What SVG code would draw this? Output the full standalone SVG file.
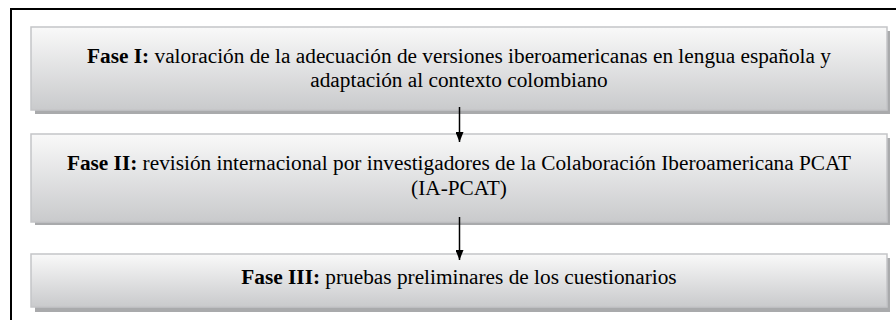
<svg xmlns="http://www.w3.org/2000/svg" width="896" height="320" viewBox="0 0 896 320">
<defs>
<linearGradient id="g" x1="0" y1="0" x2="0" y2="1">
<stop offset="0" stop-color="#f9f9f9"/>
<stop offset="1" stop-color="#c9cacc"/>
</linearGradient>
<marker id="ah" markerWidth="10" markerHeight="8" refX="10" refY="4" orient="auto" markerUnits="userSpaceOnUse">
<path d="M0,0 L10,4 L0,8 Z" fill="#000"/>
</marker>
</defs>
<style>
.sh{fill:#a9aaac}
.bx{fill:url(#g);stroke:#c4c5c7;stroke-width:1.5}
.t{font-size:21.3px;fill:#000;text-anchor:middle}
.b{font-weight:bold}
.c{stroke:#000;stroke-width:1.5;fill:none}
</style>
<rect x="11" y="9" width="900" height="330" fill="#fff" stroke="#000" stroke-width="2"/>
<g id="fase1">
<rect class="sh" x="35" y="31" width="855" height="83"/>
<rect class="bx" x="31" y="27" width="856" height="83"/>
<text class="t" font-family="Liberation Serif, Times New Roman, serif" x="459" y="63"><tspan class="b">Fase I:</tspan> valoración de la adecuación de versiones iberoamericanas en lengua española y</text>
<text class="t" font-family="Liberation Serif, Times New Roman, serif" x="459" y="87">adaptación al contexto colombiano</text>
</g>
<g id="fase2">
<rect class="sh" x="35" y="138" width="855" height="87"/>
<rect class="bx" x="31" y="134" width="856" height="88"/>
<text class="t" font-family="Liberation Serif, Times New Roman, serif" x="459" y="170"><tspan class="b">Fase II:</tspan> revisión internacional por investigadores de la Colaboración Iberoamericana PCAT</text>
<text class="t" font-family="Liberation Serif, Times New Roman, serif" x="459" y="195">(IA-PCAT)</text>
</g>
<g id="fase3">
<rect class="sh" x="35" y="258" width="855" height="54"/>
<rect class="bx" x="31" y="254" width="856" height="53"/>
<text class="t" font-family="Liberation Serif, Times New Roman, serif" x="459" y="284"><tspan class="b">Fase III:</tspan> pruebas preliminares de los cuestionarios</text>
</g>
<g id="connectors">
<line class="c" x1="459.5" y1="107" x2="459.5" y2="142" marker-end="url(#ah)"/>
<line class="c" x1="459.5" y1="217" x2="459.5" y2="260" marker-end="url(#ah)"/>
</g>
</svg>
